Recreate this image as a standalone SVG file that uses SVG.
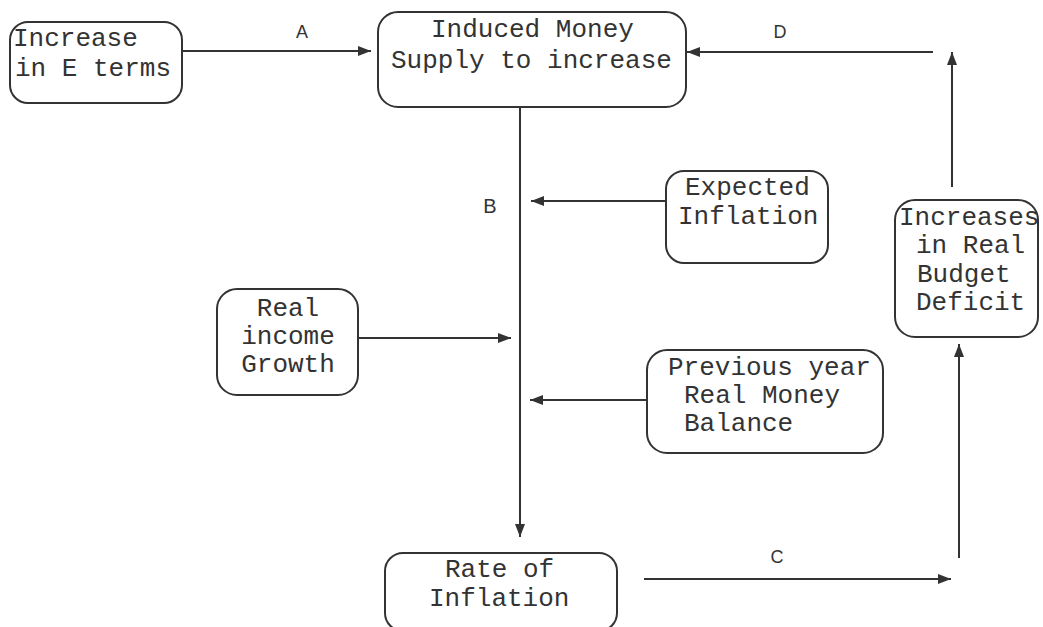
<svg xmlns="http://www.w3.org/2000/svg" width="1043" height="627" viewBox="0 0 1043 627">
<style>
.box{fill:#fff;stroke:#333;stroke-width:2}
.t{font-family:"Liberation Mono","Courier New",monospace;font-size:26px;fill:#333}
.lbl{font-family:"Liberation Sans",Arial,sans-serif;font-size:18px;fill:#333;text-anchor:middle}
.c{stroke:#333;stroke-width:2;fill:none;marker-end:url(#ah)}
</style>
<defs>
<marker id="ah" markerUnits="userSpaceOnUse" markerWidth="14" markerHeight="10" refX="13" refY="5" orient="auto">
<path d="M0,0 L13,5 L0,10 Z" fill="#333"/>
</marker>
</defs>
<rect width="1043" height="627" fill="#fff"/>
<g id="connectors">
<line class="c" x1="182" y1="51" x2="371" y2="51"/>
<line class="c" x1="933" y1="52" x2="687" y2="52"/>
<line class="c" x1="952" y1="187" x2="952" y2="52"/>
<line class="c" x1="520" y1="108" x2="520" y2="537"/>
<line class="c" x1="666" y1="201" x2="531" y2="201"/>
<line class="c" x1="350" y1="338" x2="511" y2="338"/>
<line class="c" x1="647" y1="400" x2="530" y2="400"/>
<line class="c" x1="644" y1="579" x2="951" y2="579"/>
<line class="c" x1="959" y1="558" x2="959" y2="344"/>
<text class="lbl" x="302" y="38">A</text>
<text class="lbl" x="490" y="213" style="font-size:20px">B</text>
<text class="lbl" x="777" y="563">C</text>
<text class="lbl" x="780" y="38">D</text>
</g>
<g id="increase-e-terms">
<rect class="box" x="10" y="22" width="172" height="81" rx="18"/>
<text class="t" x="13" y="46">Increase</text>
<text class="t" x="15" y="76">in E terms</text>
</g>
<g id="induced-money">
<rect class="box" x="378" y="12" width="308" height="95" rx="20"/>
<text class="t" x="431" y="37">Induced Money</text>
<text class="t" x="391" y="68">Supply to increase</text>
</g>
<g id="expected-inflation">
<rect class="box" x="666" y="171" width="162" height="92" rx="18"/>
<text class="t" x="685" y="195">Expected</text>
<text class="t" x="678" y="224">Inflation</text>
</g>
<g id="budget-deficit">
<rect class="box" x="895" y="200" width="143" height="137" rx="20"/>
<text class="t" x="899" y="225">Increases</text>
<text class="t" x="916" y="253">in Real</text>
<text class="t" x="917" y="282">Budget</text>
<text class="t" x="916" y="310">Deficit</text>
</g>
<g id="real-income">
<rect class="box" x="217" y="289" width="141" height="106" rx="20"/>
<text class="t" x="288" y="316" text-anchor="middle">Real</text>
<text class="t" x="288" y="344" text-anchor="middle">income</text>
<text class="t" x="288" y="372" text-anchor="middle">Growth</text>
</g>
<g id="previous-year">
<rect class="box" x="647" y="350" width="236" height="103" rx="20"/>
<text class="t" x="668" y="375">Previous year</text>
<text class="t" x="684" y="403">Real Money</text>
<text class="t" x="684" y="431">Balance</text>
</g>
<g id="rate-of-inflation">
<rect class="box" x="385" y="553" width="232" height="78" rx="18"/>
<text class="t" x="445" y="577">Rate of</text>
<text class="t" x="429" y="606">Inflation</text>
</g>
</svg>
